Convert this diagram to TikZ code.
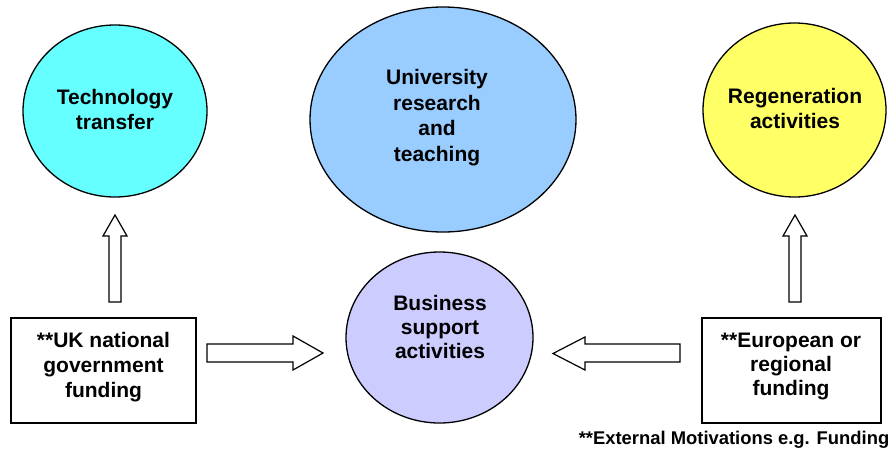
\documentclass[tikz,border=0pt]{standalone}
\usepackage{fontspec}
\setmainfont{Liberation Sans}
\usetikzlibrary{shapes.geometric}
\definecolor{cyanf}{HTML}{66FFFF}
\definecolor{bluef}{HTML}{99CCFF}
\definecolor{yellowf}{HTML}{FFFF66}
\definecolor{lavf}{HTML}{CCCCFF}
\tikzset{
  bub/.style={ellipse, draw=black, line width=1.3pt, align=center, inner sep=0pt},
  fundbox/.style={rectangle, draw=black, line width=1.3pt, inner sep=0pt},
  blockarrow/.style={draw=black, line width=1.2pt, fill=white, line join=miter},
  lbl/.style={align=center, inner sep=0pt, font=\fontsize{21}{25}\selectfont\bfseries}
}
\begin{document}
\begin{tikzpicture}[x=1pt,y=-1pt]
\useasboundingbox (0,0) rectangle (893,453);
% bubbles
\node[bub, fill=cyanf, minimum width=184pt, minimum height=172pt] (tech) at (115,111) {};
\node[lbl] (techt) at (115,109.5) {Technology\\transfer};
\node[bub, fill=bluef, minimum width=266pt, minimum height=225pt] (univ) at (443,119.5) {};
\node[lbl, font=\fontsize{21}{25.5}\selectfont\bfseries] (univt) at (437,117.5) {University\\research\\and\\teaching};
\node[bub, fill=yellowf, minimum width=183pt, minimum height=174pt] (regen) at (794.5,110) {};
\node[lbl] (regent) at (795,108) {Regeneration\\activities};
\node[bub, fill=lavf, minimum width=187pt, minimum height=171pt] (bus) at (439.5,337.5) {};
\node[lbl, font=\fontsize{21}{24}\selectfont\bfseries] (bust) at (440,327) {Business\\support\\activities};
% funding boxes
\node[fundbox, minimum width=185pt, minimum height=105pt] (uk) at (103.5,370.5) {};
\node[lbl] (ukt) at (103.5,367) {**UK national\\government\\funding};
\node[fundbox, minimum width=179pt, minimum height=105pt] (eu) at (791.5,370.5) {};
\node[lbl, font=\fontsize{21}{24}\selectfont\bfseries] (eut) at (791,366.5) {**European or\\regional\\funding};
% block arrows
\draw[blockarrow] (109,302) -- (109,236) -- (103,236) -- (115,215) -- (127,236) -- (121,236) -- (121,302) -- cycle;
\draw[blockarrow] (789,302) -- (789,236) -- (783,236) -- (795,215) -- (807,236) -- (801,236) -- (801,302) -- cycle;
\draw[blockarrow] (207,344) -- (293,344) -- (293,336) -- (323,353) -- (293,370) -- (293,362) -- (207,362) -- cycle;
\draw[blockarrow] (680,344) -- (585,344) -- (585,337) -- (553,353.5) -- (585,370) -- (585,362) -- (680,362) -- cycle;
% footnote
\node[inner sep=0pt, font=\fontsize{18.4}{20}\selectfont\bfseries] (foot) at (734,440) {**External Motivations e.g. Funding};
\end{tikzpicture}
\end{document}
